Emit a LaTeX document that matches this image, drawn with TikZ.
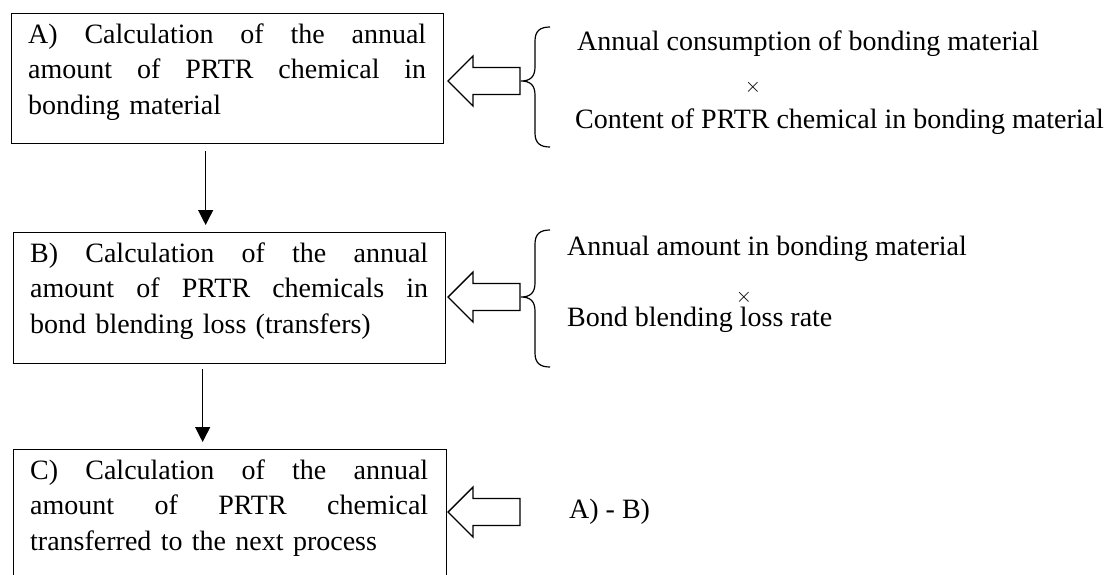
\documentclass[tikz,border=0pt]{standalone}
\usepackage{fontspec}
\setmainfont{Liberation Serif}
\usetikzlibrary{arrows.meta,calc}
% one justified line of a box text: words spread over the full width
\newcommand{\jline}[1]{\hbox to 398pt{#1}}
\newcommand{\gap}{\hfill\ }
% curly brace: top end, tip and bottom end (y values)
\newcommand{\wbrace}[3]{%
  \draw[bracestyle] (550,#1) .. controls (540,#1) and (535,{#1+4}) .. (535,{#1+14})
    -- (535,{#2-14}) .. controls (535,{#2-4}) and (530,#2) .. (521,#2)
    .. controls (530,#2) and (535,{#2+4}) .. (535,{#2+14})
    -- (535,{#3-14}) .. controls (535,{#3-4}) and (540,#3) .. (550,#3);}
\begin{document}
\begin{tikzpicture}[
  x=1pt, y=-1pt,
  font=\fontsize{28}{35.5}\selectfont,
  stepbox/.style={draw, line width=1.3pt, anchor=north west, inner sep=0pt},
  boxtext/.style={anchor=base west, inner sep=0pt, text width=398pt},
  flow/.style={line width=1.2pt, -{Triangle[length=15pt,width=15pt]}},
  bracestyle/.style={line width=1.2pt},
  note/.style={anchor=base west, inner sep=0pt},
  times/.style={inner sep=0pt, font=\fontsize{20}{22}\selectfont},
  hollow/.pic={\draw[line width=1.4pt, line join=miter]
    (0,0) -- (25,-25) -- (25,-13.5) -- (72,-13.5) -- (72,13.5)
    -- (25,13.5) -- (25,25) -- cycle;}
]
\useasboundingbox (0,0) rectangle (1106,574);
\fill[white] (0,0) rectangle (1106,574);
\clip (0,0) rectangle (1106,574);

% calculation steps
\node[stepbox, minimum width=432pt, minimum height=130pt] (A) at (11,13) {};
\node[stepbox, minimum width=432pt, minimum height=131pt] (B) at (13,232) {};
\node[stepbox, minimum width=433pt, minimum height=160pt] (C) at (13,449) {};

\node[boxtext] (Atext) at (28,43)
  {\jline{A)\gap Calculation\gap of\gap the\gap annual}
   \jline{amount\gap of\gap PRTR\gap chemical\gap in}
   \hbox{bonding material}};
\node[boxtext] (Btext) at (30,262)
  {\jline{B)\gap Calculation\gap of\gap the\gap annual}
   \jline{amount\gap of\gap PRTR\gap chemicals\gap in}
   \hbox{bond blending loss (transfers)}};
\node[boxtext] (Ctext) at (30,479)
  {\jline{C)\gap Calculation\gap of\gap the\gap annual}
   \jline{amount\gap of\gap PRTR\gap chemical}
   \hbox{transferred to the next process}};

% flow between the steps
\draw[flow] ($(A.south)+(-22,7)$) -- ($(B.north)+(-24,-7)$);
\draw[flow] ($(B.south)+(-27,5)$) -- ($(C.north)+(-27.5,-7)$);

% inputs of each step
\pic at (448,81) {hollow};
\pic at (448,297) {hollow};
\pic at (448,512) {hollow};

\wbrace{27}{81}{147}
\wbrace{230}{297}{367}

\node[note] (a1) at (577,50) {Annual consumption of bonding material};
\node[times] (ax) at (753,87) {$\times$};
\node[note] (a2) at (575,128) {Content of PRTR chemical in bonding material};

\node[note] (b1) at (567,255) {Annual amount in bonding material};
\node[times] (bx) at (744,297) {$\times$};
\node[note] (b2) at (567,326) {Bond blending loss rate};

\node[note] (c1) at (569,518) {A) - B)};
\end{tikzpicture}
\end{document}
